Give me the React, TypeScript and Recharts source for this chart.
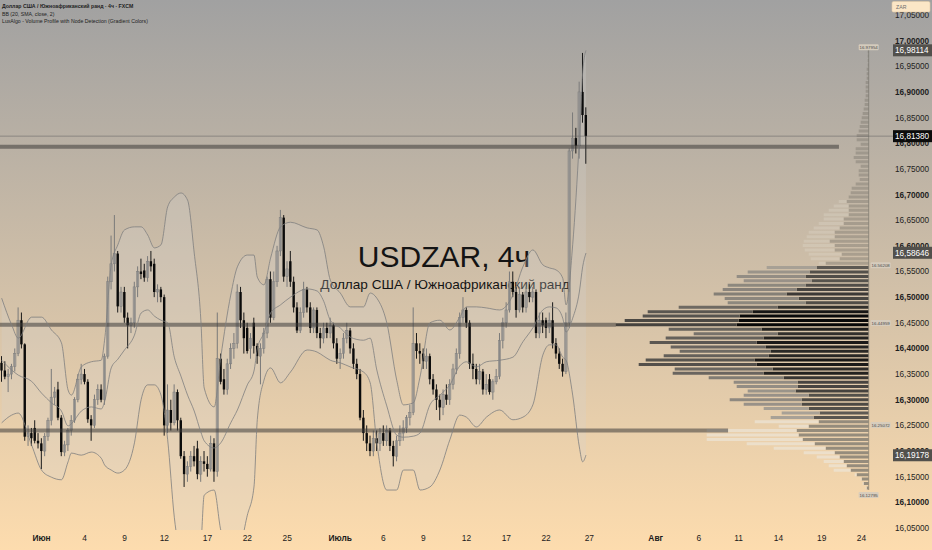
import React from 'react';
import { ComposedChart, BarChart, Bar, Line, Area, XAxis, YAxis, ReferenceLine, ReferenceDot, Cell } from 'recharts';

const W = 932;
const H = 550;
const FONT = '"Liberation Sans", Arial, sans-serif';
const Y_MIN = 16.0461;
const Y_MAX = 17.0792;
const X_MIN = -0.5;
const X_MAX = 268.48;

// ---- candles (4h) ----
const cOpen = [
  16.372,16.357,16.345,16.35,16.365,16.39,16.455,16.408,16.228,16.235,
  16.245,16.22,16.215,16.20,16.228,16.26,16.305,16.32,16.265,16.198,
  16.212,16.24,16.26,16.30,16.34,16.35,16.335,16.262,16.25,16.30,
  16.32,16.30,16.385,16.53,16.565,16.585,16.482,16.51,16.46,16.445,
  16.45,16.52,16.55,16.552,16.538,16.57,16.565,16.51,16.515,16.50,
  16.25,16.28,16.255,16.315,16.26,16.19,16.155,16.17,16.19,16.205,
  16.155,16.18,16.175,16.165,16.215,16.16,16.38,16.34,16.32,16.37,
  16.40,16.41,16.51,16.455,16.44,16.40,16.45,16.405,16.385,16.40,
  16.43,16.535,16.46,16.53,16.59,16.655,16.54,16.57,16.53,16.48,
  16.435,16.47,16.515,16.48,16.44,16.475,16.43,16.42,16.44,16.43,
  16.445,16.41,16.38,16.39,16.42,16.435,16.40,16.37,16.35,16.265,
  16.235,16.215,16.20,16.225,16.215,16.235,16.22,16.24,16.21,16.19,
  16.22,16.235,16.245,16.265,16.275,16.41,16.395,16.39,16.375,16.385,
  16.34,16.32,16.30,16.285,16.31,16.30,16.33,16.36,16.39,16.46,
  16.475,16.45,16.37,16.36,16.34,16.355,16.32,16.34,16.315,16.335,
  16.345,16.415,16.45,16.475,16.53,16.51,16.475,16.505,16.48,16.51,
  16.50,16.51,16.43,16.455,16.455,16.44,16.455,16.41,16.39,16.37,
  16.355,16.45,16.785,16.81,16.795,16.90,16.855,
];
const cHigh = [
  16.385,16.375,16.36,16.37,16.40,16.48,16.47,16.41,16.25,16.245,
  16.26,16.235,16.225,16.235,16.265,16.36,16.325,16.335,16.27,16.22,
  16.245,16.27,16.305,16.35,16.37,16.36,16.34,16.27,16.31,16.33,
  16.33,16.39,16.54,16.62,16.66,16.59,16.52,16.52,16.47,16.46,
  16.53,16.56,16.575,16.565,16.58,16.59,16.575,16.525,16.52,16.505,
  16.33,16.30,16.33,16.32,16.265,16.20,16.18,16.20,16.21,16.22,
  16.19,16.20,16.19,16.23,16.225,16.47,16.39,16.36,16.38,16.41,
  16.43,16.525,16.52,16.47,16.45,16.43,16.46,16.41,16.41,16.44,
  16.54,16.55,16.55,16.60,16.67,16.66,16.57,16.59,16.54,16.49,
  16.48,16.53,16.52,16.49,16.48,16.48,16.44,16.45,16.45,16.46,
  16.45,16.42,16.40,16.43,16.45,16.44,16.41,16.38,16.36,16.28,
  16.25,16.23,16.24,16.24,16.245,16.25,16.25,16.245,16.22,16.23,
  16.25,16.26,16.27,16.29,16.48,16.43,16.41,16.40,16.40,16.39,
  16.35,16.33,16.31,16.32,16.33,16.34,16.37,16.40,16.47,16.50,
  16.48,16.455,16.39,16.37,16.37,16.36,16.35,16.35,16.34,16.36,
  16.43,16.46,16.49,16.55,16.55,16.52,16.52,16.51,16.52,16.525,
  16.52,16.515,16.47,16.47,16.46,16.47,16.49,16.42,16.40,16.38,
  16.47,16.79,16.86,16.83,16.92,16.976,16.87,
];
const cLow = [
  16.335,16.34,16.315,16.34,16.355,16.385,16.40,16.22,16.21,16.21,
  16.215,16.205,16.165,16.19,16.22,16.25,16.29,16.26,16.19,16.19,
  16.20,16.23,16.255,16.295,16.33,16.33,16.255,16.22,16.245,16.29,
  16.295,16.29,16.38,16.515,16.55,16.47,16.47,16.45,16.40,16.43,
  16.44,16.50,16.535,16.53,16.53,16.55,16.50,16.49,16.49,16.23,
  16.235,16.24,16.25,16.24,16.185,16.13,16.14,16.16,16.17,16.145,
  16.14,16.16,16.15,16.16,16.14,16.15,16.33,16.31,16.31,16.36,
  16.38,16.40,16.44,16.39,16.39,16.38,16.39,16.37,16.33,16.39,
  16.42,16.45,16.455,16.52,16.58,16.53,16.52,16.52,16.47,16.43,
  16.43,16.46,16.47,16.43,16.43,16.42,16.40,16.41,16.42,16.42,
  16.40,16.37,16.36,16.38,16.41,16.39,16.36,16.34,16.26,16.22,
  16.20,16.19,16.19,16.20,16.20,16.21,16.21,16.20,16.17,16.18,
  16.21,16.22,16.235,16.25,16.27,16.38,16.37,16.36,16.36,16.33,
  16.31,16.28,16.26,16.27,16.29,16.29,16.32,16.35,16.38,16.45,
  16.44,16.36,16.34,16.33,16.33,16.31,16.31,16.31,16.30,16.33,
  16.34,16.40,16.44,16.47,16.50,16.46,16.47,16.47,16.47,16.49,
  16.49,16.42,16.42,16.43,16.42,16.43,16.40,16.38,16.36,16.345,
  16.35,16.44,16.77,16.78,16.77,16.84,16.76,
];
const cClose = [
  16.357,16.345,16.35,16.365,16.39,16.455,16.408,16.228,16.235,16.225,
  16.22,16.215,16.20,16.228,16.26,16.305,16.315,16.265,16.198,16.212,
  16.24,16.26,16.30,16.34,16.35,16.335,16.262,16.25,16.30,16.32,
  16.30,16.385,16.53,16.565,16.585,16.482,16.51,16.46,16.445,16.45,
  16.52,16.55,16.545,16.538,16.57,16.56,16.51,16.515,16.50,16.25,
  16.28,16.255,16.315,16.26,16.19,16.155,16.17,16.19,16.18,16.155,
  16.18,16.175,16.165,16.215,16.16,16.38,16.335,16.32,16.37,16.40,
  16.41,16.51,16.455,16.42,16.395,16.42,16.405,16.385,16.40,16.43,
  16.535,16.46,16.53,16.59,16.655,16.54,16.555,16.53,16.48,16.435,
  16.47,16.515,16.48,16.44,16.475,16.43,16.42,16.44,16.43,16.445,
  16.41,16.38,16.39,16.42,16.435,16.40,16.37,16.35,16.265,16.235,
  16.215,16.20,16.225,16.215,16.235,16.22,16.24,16.21,16.19,16.22,
  16.235,16.245,16.265,16.275,16.41,16.395,16.39,16.375,16.385,16.34,
  16.32,16.30,16.285,16.31,16.30,16.33,16.36,16.39,16.46,16.475,
  16.45,16.37,16.36,16.34,16.355,16.32,16.33,16.315,16.335,16.345,
  16.415,16.45,16.475,16.53,16.51,16.475,16.505,16.48,16.51,16.50,
  16.51,16.43,16.455,16.445,16.44,16.455,16.41,16.39,16.37,16.355,
  16.45,16.785,16.81,16.795,16.90,16.855,16.8138,
];

// ---- Bollinger bands (20, 2), read at sample bars ----
const bbIdx = [0,3,5,9,12,15,18,20,21,24,27,30,31,33,35,37,40,42,44,46,48,50,52,54,56,58,60,61,64,66,69,71,74,76,77,79,81,84,87,92,95,97,99,102,105,109,111,113,116,119,121,124,126,129,132,135,138,140,143,146,150,154,157,160,163,165,167,169,170,172,174,175,176];
const bbUpper = [16.498,16.446,16.420,16.461,16.461,16.436,16.411,16.319,16.309,16.364,16.374,16.377,16.416,16.563,16.602,16.631,16.637,16.637,16.621,16.596,16.602,16.676,16.695,16.703,16.689,16.586,16.455,16.323,16.286,16.383,16.504,16.559,16.582,16.582,16.539,16.524,16.576,16.637,16.646,16.635,16.631,16.598,16.533,16.508,16.481,16.481,16.508,16.498,16.450,16.338,16.290,16.294,16.344,16.450,16.455,16.436,16.461,16.481,16.481,16.479,16.475,16.504,16.559,16.592,16.563,16.557,16.553,16.537,16.485,16.602,16.806,16.937,16.981];
const bbBasis = [16.377,16.358,16.348,16.336,16.313,16.294,16.278,16.249,16.253,16.278,16.286,16.282,16.296,16.362,16.379,16.397,16.426,16.469,16.475,16.463,16.455,16.450,16.383,16.346,16.309,16.278,16.237,16.220,16.206,16.216,16.255,16.280,16.329,16.356,16.399,16.430,16.469,16.485,16.500,16.516,16.512,16.492,16.455,16.440,16.422,16.416,16.420,16.358,16.288,16.231,16.227,16.229,16.235,16.290,16.309,16.329,16.366,16.374,16.364,16.374,16.377,16.383,16.413,16.440,16.475,16.481,16.479,16.459,16.432,16.459,16.510,16.559,16.586];
const bbLower = [16.255,16.270,16.274,16.212,16.163,16.149,16.144,16.179,16.196,16.192,16.198,16.186,16.173,16.163,16.157,16.163,16.216,16.300,16.329,16.329,16.309,16.222,16.071,15.988,15.929,15.968,16.017,16.114,16.124,16.046,16.007,16.001,16.075,16.130,16.261,16.338,16.362,16.333,16.354,16.397,16.393,16.385,16.377,16.372,16.364,16.354,16.333,16.216,16.124,16.124,16.163,16.163,16.124,16.130,16.163,16.222,16.270,16.266,16.247,16.266,16.280,16.261,16.266,16.290,16.387,16.407,16.407,16.383,16.377,16.309,16.208,16.179,16.192];

// ---- axes ----
const yTicks = [16.05,16.1,16.15,16.2,16.25,16.3,16.35,16.4,16.45,16.5,16.55,16.6,16.65,16.7,16.75,16.8,16.85,16.9,16.95,17.0,17.05];
const xTickIdx = [12,25,37,49,62,74,86,102,115,127,140,152,164,177,197,210,222,234,247,259];
const xTickLabels = ['Июн','4','9','12','17','22','25','Июль','6','9','12','17','22','27','Авг','6','11','14','19','24'];

// ---- levels ----
const nodeLevels = [16.793, 16.446, 16.240];
const nodeLevelEnd = [252.2, 185.0, 218.8];
const lastPrice = 16.8138;
const axisMarks = [16.98114, 16.8138, 16.58646, 16.19178];
const axisMarkBg = ['#52504c', '#0c0c0c', '#52504c', '#52504c'];

// ---- volume profile (rows top -> bottom, 16.98 .. 16.13) ----
const vpInner = [
  1,1,1,1,1,2,2,2,3,3,3,3,4,4,5,6,7,8,9,10,12,12,
  8,13,13,15,13,8,10,10,9,13,17,18,20,22,20,20,20,25,25,29,34,34,39,34,34,27,29,43,
  52,59,63,57,63,72,82,70,63,91,116,129,130,132,107,91,105,112,103,98,100,114,112,96,105,85,71,71,73,60,67,67,60,49,55,
  50,60,72,70,66,54,43,34,29,25,22,18,12,7,5,2,
];
const vpTotal = [
  1,1,1,1,1,2,2,2,3,3,3,3,4,4,5,6,7,8,9,10,12,12,
  8,13,13,15,13,8,10,10,9,13,17,18,20,30,35,40,45,45,50,55,60,62,65,66,64,60,58,50,
  102,121,132,125,141,146,155,144,141,190,221,226,244,253,200,175,203,219,198,189,205,223,230,194,196,160,135,132,121,125,139,125,105,87,98,
  114,90,162,162,162,122,95,65,52,45,40,35,14,8,6,3,
];
const VP_NODE_START = 50;
const VP_NODE_END = 85;
const VP_ANCHOR = 261.15;
const vpLabels = [16.97954, 16.56208, 16.44959, 16.25072, 16.12795];
const vpLabelSide = ['top', 'right', 'right', 'right', 'bottom'];

const candles = cOpen.map((o, i) => ({ i, o, h: cHigh[i], l: cLow[i], c: cClose[i] }));
const bands = bbIdx.map((i, k) => ({ i, u: bbUpper[k], m: bbBasis[k], lo: bbLower[k], range: [bbLower[k], bbUpper[k]] }));
const vpRows = vpInner.map((v, k) => ({ k, inner: v, outer: vpTotal[k] - v }));

const hex = (h: string) => [1, 3, 5].map((p) => parseInt(h.slice(p, p + 2), 16));
const mix = (a: string, b: string, t: number) => {
  const tt = Math.max(0, Math.min(1, t));
  const A = hex(a), B = hex(b);
  return `rgb(${A.map((v, i) => Math.round(v + (B[i] - v) * tt)).join(',')})`;
};
const innerColor = (k: number) => {
  if (k < VP_NODE_START) return 'rgba(122,116,108,0.42)';
  if (k < VP_NODE_END) return mix('#5e5a54', '#060606', (vpInner[k] - 50) / 82);
  return 'rgba(128,122,113,0.8)';
};
const outerColor = (k: number) => {
  if (k < VP_NODE_START) return 'rgba(232,226,214,0.25)';
  if (k < VP_NODE_END) return mix('#a8a196', '#45423e', (vpTotal[k] - 100) / 153);
  return 'rgba(236,230,218,0.65)';
};

const fmt = (v: number) => v.toFixed(5).replace('.', ',');

const CandleShape = (props: any) => {
  const { x, y, width, height, payload } = props;
  if (!payload || x == null) return null;
  const { o, h, l, c } = payload;
  const top = Math.min(y, y + height);
  const hh = Math.abs(height);
  const cx = x + width / 2;
  const span = h - l || 1e-9;
  const py = (v: number) => top + ((h - v) / span) * hh;
  const up = c >= o;
  const bTop = py(Math.max(o, c));
  const bBot = py(Math.min(o, c));
  const bw = 2.4;
  return (
    <g>
      <line x1={cx} x2={cx} y1={top} y2={top + hh} stroke={up ? '#7a7a7a' : '#1a1a1a'} strokeWidth={1} />
      <rect x={cx - bw / 2} y={bTop} width={bw} height={Math.max(bBot - bTop, 0.8)}
        fill={up ? 'rgba(150,150,150,0.5)' : '#0b0b0b'} stroke={up ? '#7c7c7c' : 'none'} strokeWidth={0.5} />
    </g>
  );
};

const XTick = (props: any) => {
  const { x, y, payload } = props;
  const k = xTickIdx.indexOf(payload.value);
  const label = k >= 0 ? xTickLabels[k] : '';
  const bold = isNaN(Number(label));
  return (
    <text x={x} y={y} dy={9} textAnchor="middle" fontSize={8.4} fontWeight={bold ? 700 : 400} fill="#1c1c1c" fontFamily={FONT}>{label}</text>
  );
};

const YTick = (props: any) => {
  const { x, y, payload } = props;
  const v = payload.value;
  const bold = Math.round(v * 100) % 10 === 0;
  return (
    <text x={x} y={y} dy={3} textAnchor="start" fontSize={8.2} fontWeight={bold ? 700 : 400} fill="#1e1e1e" fontFamily={FONT}>{fmt(v)}</text>
  );
};

const AxisBox = (props: any) => {
  const { viewBox, price, bg } = props;
  if (!viewBox) return null;
  const x = viewBox.x + viewBox.width;
  const y = viewBox.y;
  return (
    <g>
      <rect x={x} y={y - 6} width={39} height={12} fill={bg} />
      <text x={x + 2} y={y + 3} fill="#ffffff" fontSize={8.2} fontFamily={FONT}>{fmt(price)}</text>
    </g>
  );
};

const VpLabel = (props: any) => {
  const { cx, cy, price, side } = props;
  if (cx == null) return null;
  const w = 20, h = 6;
  let bx = cx + 2, by = cy - h / 2;
  if (side === 'top') { bx = cx - w / 2; by = cy - h - 1; }
  if (side === 'bottom') { bx = cx - w / 2; by = cy + 4; }
  return (
    <g>
      <rect x={bx} y={by} width={w} height={h} rx={1} fill="rgba(214,204,190,0.95)" />
      <text x={bx + w / 2} y={by + 4.6} textAnchor="middle" fontSize={4.4} fill="#4a4a4a" fontFamily={FONT}>{price.toFixed(5)}</text>
    </g>
  );
};

export default function App() {
  return (
    <div style={{ position: 'absolute', left: 0, top: 0, width: W, height: H, overflow: 'hidden',
      background: 'linear-gradient(to bottom, #a1a1a1 0%, #fddcae 100%)', fontFamily: FONT }}>
      {/* watermark title */}
      <svg width={W} height={H} style={{ position: 'absolute', left: 0, top: 0 }}>
        <text x={444} y={267} textAnchor="middle" fontSize={30} fill="#141414" fontFamily={FONT}>USDZAR, 4ч</text>
        <text x={445} y={289} textAnchor="middle" fontSize={13.6} fill="#141414" fontFamily={FONT}>Доллар США / Южноафриканский ранд</text>
      </svg>

      {/* volume profile */}
      <div style={{ position: 'absolute', left: 0, top: 0 }}>
        <BarChart width={W} height={H} data={vpRows} layout="vertical" barCategoryGap="18%"
          margin={{ top: 45, right: W - 868.7, bottom: 60, left: 0 }}>
          <XAxis type="number" domain={[0, 868.7]} reversed hide allowDataOverflow />
          <YAxis type="category" dataKey="k" hide />
          <ReferenceLine x={0} stroke="rgba(110,106,100,0.6)" strokeWidth={1} />
          <Bar dataKey="inner" stackId="v" isAnimationActive={false}>
            {vpRows.map((r) => <Cell key={`i${r.k}`} fill={innerColor(r.k)} />)}
          </Bar>
          <Bar dataKey="outer" stackId="v" isAnimationActive={false}>
            {vpRows.map((r) => <Cell key={`o${r.k}`} fill={outerColor(r.k)} />)}
          </Bar>
        </BarChart>
      </div>

      {/* main price chart */}
      <div style={{ position: 'absolute', left: 0, top: 0 }}>
        <ComposedChart width={W} height={H} data={candles} margin={{ top: 0, right: 0, bottom: 0, left: 0 }}>
          <XAxis dataKey="i" type="number" domain={[X_MIN, X_MAX]} allowDataOverflow ticks={xTickIdx} interval={0}
            tick={<XTick />} tickLine={false} axisLine={false} tickSize={0} tickMargin={2} height={20} />
          <YAxis orientation="right" type="number" domain={[Y_MIN, Y_MAX]} allowDataOverflow ticks={yTicks} interval={0}
            tick={<YTick />} tickLine={false} axisLine={false} tickSize={0} tickMargin={2} width={39} />
          {nodeLevels.map((p, k) => (
            <ReferenceLine key={`n${k}`} segment={[{ x: X_MIN, y: p }, { x: nodeLevelEnd[k], y: p }]}
              stroke="rgba(62,60,58,0.55)" strokeWidth={4} ifOverflow="extendDomain" />
          ))}
          <ReferenceLine y={lastPrice} stroke="rgba(95,95,95,0.5)" strokeWidth={1} />
          <Area data={bands} dataKey="range" type="monotone" stroke="none" fill="rgba(212,212,212,0.42)" isAnimationActive={false} />
          <Line data={bands} dataKey="u" type="monotone" stroke="#808080" strokeOpacity={0.8} strokeWidth={1} dot={false} isAnimationActive={false} />
          <Line data={bands} dataKey="m" type="monotone" stroke="#808080" strokeOpacity={0.8} strokeWidth={1} dot={false} isAnimationActive={false} />
          <Line data={bands} dataKey="lo" type="monotone" stroke="#808080" strokeOpacity={0.8} strokeWidth={1} dot={false} isAnimationActive={false} />
          <Bar dataKey={(d: any) => [d.l, d.h]} barSize={3} shape={<CandleShape />} isAnimationActive={false} />
        </ComposedChart>
      </div>

      {/* overlay marks */}
      <div style={{ position: 'absolute', left: 0, top: 0 }}>
        <ComposedChart width={W} height={H} data={candles} margin={{ top: 0, right: 39, bottom: 20, left: 0 }}>
          <XAxis dataKey="i" type="number" domain={[X_MIN, X_MAX]} allowDataOverflow hide />
          <YAxis type="number" domain={[Y_MIN, Y_MAX]} allowDataOverflow hide />
          {axisMarks.map((p, k) => (
            <ReferenceLine key={`a${k}`} y={p} stroke="none" ifOverflow="visible"
              label={<AxisBox price={p} bg={axisMarkBg[k]} />} />
          ))}
          {vpLabels.map((p, k) => (
            <ReferenceDot key={`v${k}`} x={VP_ANCHOR} y={p} r={1} ifOverflow="visible"
              shape={(sp: any) => <VpLabel cx={sp.cx} cy={sp.cy} price={p} side={vpLabelSide[k]} />} />
          ))}
        </ComposedChart>
      </div>

      {/* legend + currency box */}
      <svg width={W} height={H} style={{ position: 'absolute', left: 0, top: 0, pointerEvents: 'none' }}>
        <text x={2} y={8} fontSize={5.2} fontWeight={700} fill="#1e1e1e" fontFamily={FONT}>Доллар США / Южноафриканский ранд · 4ч · FXCM</text>
        <text x={2} y={15.5} fontSize={5.2} fill="#1e1e1e" fontFamily={FONT}>BB (20, SMA, close, 2)</text>
        <text x={2} y={22.5} fontSize={5.2} fill="#1e1e1e" fontFamily={FONT}>LuxAlgo - Volume Profile with Node Detection (Gradient Colors)</text>
        <rect x={892} y={1.5} width={38} height={10.5} rx={1.5} fill="#fbe6c6" stroke="#e2cba8" strokeWidth={0.6} />
        <text x={896} y={9} fontSize={5.2} fill="#6e6e6e" fontFamily={FONT}>ZAR</text>
      </svg>
    </div>
  );
}
